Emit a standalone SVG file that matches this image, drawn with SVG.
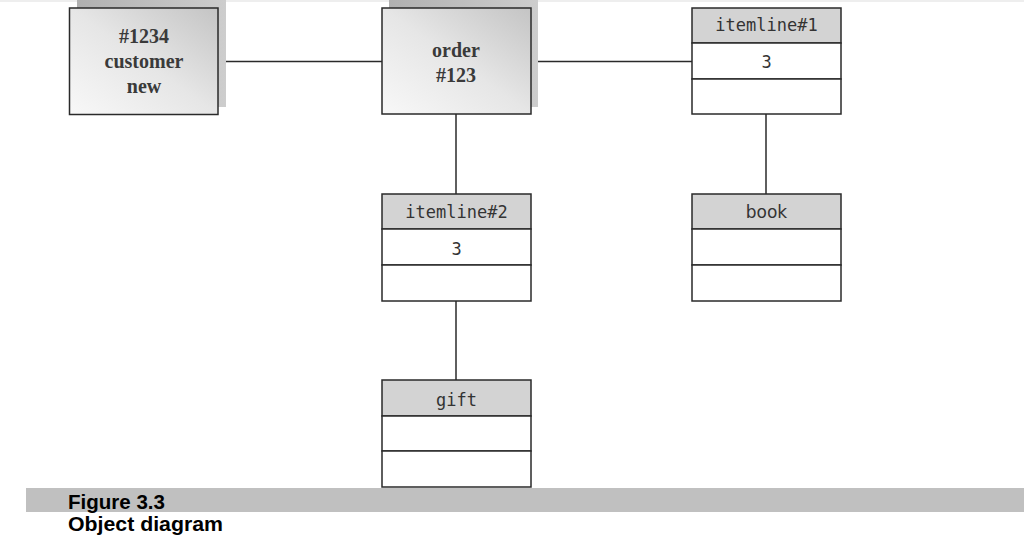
<svg xmlns="http://www.w3.org/2000/svg" width="1024" height="559" viewBox="0 0 1024 559">
<style>
.obj{stroke:#2a2a2a;stroke-width:1.5;fill:url(#g)}
.sh{fill:url(#gs)}
.hd{fill:#d3d3d3;stroke:#2a2a2a;stroke-width:1.5}
.cp{fill:#fff;stroke:#2a2a2a;stroke-width:1.5}
.ser{font-family:"Liberation Serif",serif;font-weight:bold;font-size:20px;fill:#3a3a3a;text-anchor:middle}
.mono{font-family:"DejaVu Sans Mono","Liberation Mono",monospace;font-size:17px;fill:#333;text-anchor:middle}
.sans{font-family:"DejaVu Sans",sans-serif;font-size:17px;fill:#333;text-anchor:middle}
.cap{font-family:"Liberation Sans",Arial,sans-serif;font-weight:bold;font-size:20px;fill:#000}
#conn line{stroke:#2a2a2a;stroke-width:1.5}
</style>
<defs>
<linearGradient id="g" x1="0" y1="1" x2="1" y2="0">
<stop offset="0" stop-color="#f8f8f8"/>
<stop offset="0.5" stop-color="#e6e6e6"/>
<stop offset="1" stop-color="#c4c4c4"/>
</linearGradient>
<linearGradient id="gs" x1="0" y1="0" x2="1" y2="0">
<stop offset="0" stop-color="#b0b0b0"/>
<stop offset="1" stop-color="#cdcdcd"/>
</linearGradient>
</defs>
<rect x="0" y="0" width="1024" height="559" fill="#fff"/>
<rect x="0" y="0" width="1024" height="2" fill="#eeeeee"/>
<g id="conn">
<line x1="226" y1="61.5" x2="382" y2="61.5"/>
<line x1="538" y1="61.5" x2="692" y2="61.5"/>
<line x1="456" y1="114" x2="456" y2="194"/>
<line x1="766" y1="114" x2="766" y2="194"/>
<line x1="456" y1="301" x2="456" y2="380"/>
</g>
<g id="customer">
<rect class="sh" x="77" y="0" width="149" height="107"/>
<rect class="obj" x="69.5" y="8" width="148.5" height="106.5"/>
<text class="ser" x="144" y="43">#1234</text>
<text class="ser" x="144" y="68">customer</text>
<text class="ser" x="144" y="93">new</text>
</g>
<g id="order">
<rect class="sh" x="389" y="0" width="149" height="107"/>
<rect class="obj" x="382" y="8" width="149" height="106"/>
<text class="ser" x="456" y="57">order</text>
<text class="ser" x="456" y="82">#123</text>
</g>
<g id="itemline1">
<rect class="hd" x="692" y="8" width="149" height="35"/>
<rect class="cp" x="692" y="43" width="149" height="36"/>
<rect class="cp" x="692" y="79" width="149" height="35"/>
<text class="mono" x="766.5" y="31">itemline#1</text>
<text class="mono" x="766.5" y="68">3</text>
</g>
<g id="itemline2">
<rect class="hd" x="382" y="194" width="149" height="35"/>
<rect class="cp" x="382" y="229" width="149" height="36"/>
<rect class="cp" x="382" y="265" width="149" height="36"/>
<text class="mono" x="456.5" y="218">itemline#2</text>
<text class="mono" x="456.5" y="255">3</text>
</g>
<g id="book">
<rect class="hd" x="692" y="194" width="149" height="35"/>
<rect class="cp" x="692" y="229" width="149" height="36"/>
<rect class="cp" x="692" y="265" width="149" height="36"/>
<text class="sans" x="766.5" y="218">book</text>
</g>
<g id="gift">
<rect class="hd" x="382" y="380" width="149" height="36"/>
<rect class="cp" x="382" y="416" width="149" height="35"/>
<rect class="cp" x="382" y="451" width="149" height="36"/>
<text class="mono" x="456.5" y="406">gift</text>
</g>
<g id="caption">
<rect x="26" y="488" width="998" height="24" fill="#c0c0c0"/>
<text class="cap" x="68" y="509" textLength="97" lengthAdjust="spacingAndGlyphs">Figure 3.3</text>
<text class="cap" x="68" y="531" textLength="155" lengthAdjust="spacingAndGlyphs">Object diagram</text>
</g>
</svg>
